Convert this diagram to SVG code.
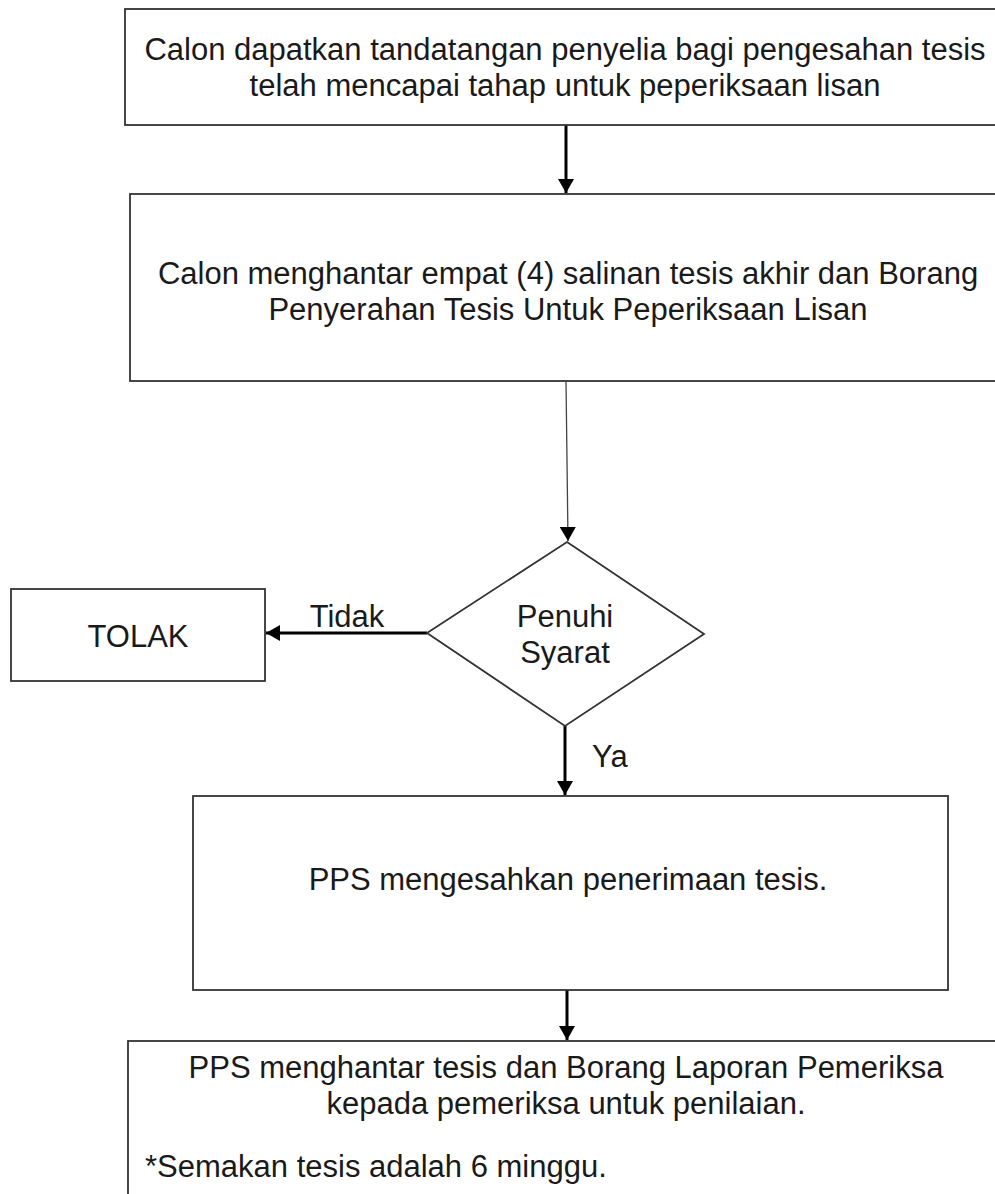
<svg xmlns="http://www.w3.org/2000/svg" width="995" height="1194" viewBox="0 0 995 1194">
<style>
.box{fill:#fff;stroke:#333;stroke-width:1.8}
.t{font-family:"Liberation Sans",Arial,sans-serif;font-size:31px;fill:#1a1a1a}
.c{text-anchor:middle}
.thick{stroke:#000;stroke-width:3;fill:none}
.thin{stroke:#444;stroke-width:1.3;fill:none}
</style>
<defs>
<marker id="ah" markerUnits="userSpaceOnUse" markerWidth="16" markerHeight="16" refX="14" refY="8" orient="auto">
<path d="M0,0 L14,8 L0,16 Z" fill="#000"/>
</marker>
</defs>
<rect width="995" height="1194" fill="#fff"/>
<g id="connectors">
<line class="thick" x1="566" y1="125" x2="566" y2="193" marker-end="url(#ah)"/>
<line class="thin" x1="566" y1="381" x2="568" y2="541" marker-end="url(#ah)"/>
<line class="thick" x1="427" y1="633" x2="266" y2="633" marker-end="url(#ah)"/>
<text class="t c" x="347" y="627">Tidak</text>
<line class="thick" x1="565" y1="726" x2="565" y2="795" marker-end="url(#ah)"/>
<text class="t" x="592" y="767">Ya</text>
<line class="thick" x1="567" y1="990" x2="567" y2="1040" marker-end="url(#ah)"/>
</g>
<g id="n1">
<rect class="box" x="125" y="9" width="885" height="116"/>
<text class="t c" x="565" y="60">Calon dapatkan tandatangan penyelia bagi pengesahan tesis</text>
<text class="t c" x="565" y="96">telah mencapai tahap untuk peperiksaan lisan</text>
</g>
<g id="n2">
<rect class="box" x="130" y="194" width="880" height="187"/>
<text class="t c" x="568" y="284">Calon menghantar empat (4) salinan tesis akhir dan Borang</text>
<text class="t c" x="568" y="320">Penyerahan Tesis Untuk Peperiksaan Lisan</text>
</g>
<g id="n3">
<polygon class="box" points="567,542 704,634 565,726 427,633"/>
<text class="t c" x="565" y="627">Penuhi</text>
<text class="t c" x="565" y="663">Syarat</text>
</g>
<g id="n4">
<rect class="box" x="11" y="589" width="254" height="92"/>
<text class="t c" x="138" y="647">TOLAK</text>
</g>
<g id="n5">
<rect class="box" x="193" y="796" width="755" height="194"/>
<text class="t c" x="568" y="890">PPS mengesahkan penerimaan tesis.</text>
</g>
<g id="n6">
<rect class="box" x="128" y="1041" width="890" height="170"/>
<text class="t c" x="566" y="1078">PPS menghantar tesis dan Borang Laporan Pemeriksa</text>
<text class="t c" x="566" y="1114">kepada pemeriksa untuk penilaian.</text>
<text class="t" x="145" y="1177">*Semakan tesis adalah 6 minggu.</text>
</g>
</svg>
